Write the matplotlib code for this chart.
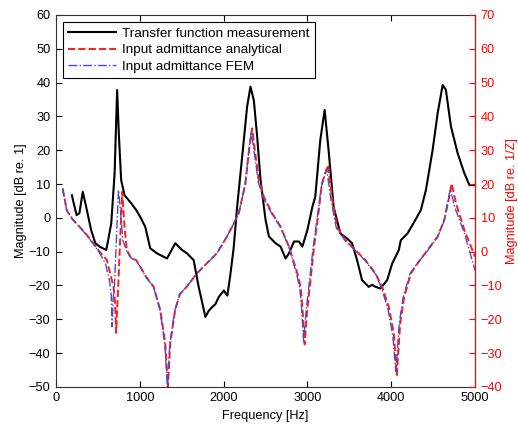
import matplotlib
matplotlib.use("Agg")
import matplotlib.pyplot as plt

plt.rcParams["font.family"] = ["Liberation Sans", "DejaVu Sans"]
plt.rcParams["font.size"] = 9.2

# transfer function measurement (left axis, dB re. 1)
meas_f = [190, 215, 247, 280, 320, 360, 420, 470, 520, 560, 600, 620, 660, 700, 730, 750,
          778, 818, 898, 958, 1005, 1065, 1125, 1205, 1325, 1424, 1504, 1564, 1643, 1703,
          1783, 1823, 1863, 1903, 1943, 2003, 2045, 2080, 2120, 2162, 2222, 2281, 2321, 2361,
          2401, 2441, 2501, 2541, 2620, 2680, 2740, 2780, 2840, 2900, 2940, 3000, 3060,
          3094, 3154, 3206, 3253, 3313, 3393, 3473, 3533, 3593, 3652, 3732, 3772, 3812,
          3872, 3952, 4012, 4091, 4115, 4195, 4275, 4354, 4414, 4494, 4554, 4614, 4653,
          4713, 4793, 4873, 4933, 4993]
meas_db = [6.7, 4.0, 0.8, 1.4, 7.7, 3.3, -3.6, -7.5, -8.5, -9.0, -9.5, -7.0, -1.6, 13.2, 37.8, 25.0,
           11.2, 6.7, 4.3, 2.3, 0.3, -2.6, -9.0, -10.5, -12.0, -7.5, -9.5, -10.5, -12.5, -20.4,
           -29.3, -27.5, -26.4, -25.5, -23.4, -21.5, -23.0, -17.0, -9.0, 3.3, 18.1, 32.9, 38.8, 34.8,
           24.0, 11.2, -0.6, -5.5, -7.5, -8.5, -12.0, -10.5, -7.0, -7.0, -8.5, -3.6, 3.3,
           6.2, 23.0, 31.9, 20.0, 3.3, -4.6, -6.1, -7.5, -12.5, -18.4, -20.4, -19.8, -20.4,
           -20.9, -18.4, -13.5, -9.5, -6.6, -4.6, -1.2, 2.3, 8.2, 20.0, 30.9, 39.3, 37.8,
           27.0, 19.1, 13.2, 9.7, 9.7]

# input admittance, analytical (right axis, dB re. 1/Z)
ana_f = [80, 128, 200, 280, 350, 446, 519, 606, 658, 686, 705, 718, 738, 766, 790, 818, 845,
         900, 958, 1005, 1077, 1164, 1244, 1304, 1336, 1364, 1423, 1480, 1563, 1680, 1802,
         1920, 2041, 2102, 2182, 2261, 2309, 2341, 2373, 2421, 2481, 2581, 2680, 2780, 2880,
         2920, 2940, 2968, 2995, 3020, 3080, 3130, 3174, 3245, 3293, 3353, 3453, 3573, 3692,
         3812, 3892, 3972, 4030, 4067, 4107, 4155, 4235, 4314, 4434, 4554, 4634, 4693, 4721,
         4773, 4873, 5000]
ana_db = [18.7, 12.3, 9.5, 7.4, 5.5, 2.5, 0.0, -2.4, -7.5, -10.3, -15.0, -24.0, -13.0, 3.4, 17.7, 7.4, 0.5,
          -2.0, -2.5, -4.4, -7.5, -10.3, -17.2, -27.0, -40.0, -27.0, -17.2, -12.5, -10.3, -6.5, -3.4,
          -0.5, 4.5, 7.4, 11.4, 20.2, 31.0, 36.5, 30.0, 21.2, 16.2, 11.3, 7.4, 1.5, -6.4,
          -10.5, -16.2, -27.4, -18.0, -12.4, 1.5, 11.0, 20.2, 25.6, 16.2, 7.4, 3.4, 0.5, -2.5,
          -6.4, -10.4, -16.4, -24.0, -36.5, -21.3, -13.4, -6.4, -3.5, 0.5, 4.5, 9.4, 16.2, 20.2,
          14.3, 6.4, -1.5]

# input admittance, FEM (right axis, dB re. 1/Z)
fem_f = [80, 128, 200, 280, 350, 446, 519, 590, 638, 660, 670, 682, 698, 730, 746, 766, 798,
         845, 900, 958, 1005, 1077, 1164, 1240, 1300, 1330, 1358, 1418, 1475, 1560, 1680, 1802,
         1920, 2041, 2102, 2182, 2255, 2300, 2330, 2365, 2415, 2475, 2581, 2680, 2780, 2870,
         2910, 2930, 2955, 2985, 3010, 3070, 3120, 3165, 3230, 3280, 3345, 3453, 3573, 3692,
         3812, 3885, 3962, 4020, 4055, 4097, 4145, 4225, 4310, 4434, 4554, 4630, 4680, 4705,
         4760, 4873, 5000]
fem_db = [18.7, 12.3, 9.5, 7.4, 5.3, 2.3, -0.3, -3.5, -8.4, -13.0, -22.2, -14.0, -10.4, 8.8, 18.2, 13.3, 3.4,
          0.0, -2.0, -2.6, -4.5, -7.6, -10.4, -17.0, -27.5, -40.0, -27.5, -17.4, -12.6, -10.4, -6.5, -3.4,
          -0.5, 4.5, 7.4, 11.4, 19.5, 29.5, 35.5, 29.5, 20.5, 15.8, 11.0, 7.2, 1.3, -6.5,
          -10.8, -16.5, -26.5, -17.5, -12.0, 1.5, 10.5, 19.0, 24.5, 15.5, 7.0, 3.2, 0.3, -2.7,
          -6.6, -10.8, -17.0, -25.0, -35.5, -21.0, -13.2, -6.5, -3.5, 0.3, 4.3, 9.0, 15.5, 18.5,
          13.0, 5.5, -5.5]

fig = plt.figure(figsize=(5.18, 4.28), dpi=100)
ax = fig.add_axes([0.108, 0.096, 0.809, 0.869])
ax2 = ax.twinx()

ln1, = ax.plot(meas_f, meas_db, color="black", lw=1.5, label="Transfer function measurement")
ln2, = ax2.plot(ana_f, ana_db, color="#ff1a1a", ls="--", lw=1.4, label="Input admittance analytical")
ln3, = ax2.plot(fem_f, fem_db, color="#4a4acc", ls="-.", lw=1.0, label="Input admittance FEM")

ax.set_xlim(0, 5000)
ax.set_ylim(-50, 60)
ax.set_yticks(range(-50, 61, 10))
ax.set_xticks(range(0, 5001, 1000))
ax2.set_ylim(-40, 70)
ax2.set_yticks(range(-40, 71, 10))

ax.set_xlabel("Frequency [Hz]", labelpad=4)
ax.set_ylabel("Magnitude [dB re. 1]", labelpad=1)
ax2.set_ylabel("Magnitude [dB re. 1/Z]", color="red", labelpad=3)

ax.tick_params(direction="in", top=True, length=4, width=0.8, colors="black", pad=4)
ax.tick_params(axis="y", right=False)
ax2.tick_params(direction="in", length=4, width=0.8, colors="red", pad=4)
for s in ax.spines.values():
    s.set_linewidth(0.8)
    s.set_color("#333333")
ax2.spines["right"].set_color("red")
ax2.spines["left"].set_visible(False)
ax2.spines["top"].set_visible(False)
ax2.spines["bottom"].set_visible(False)

leg = ax2.legend(handles=[ln1, ln2, ln3], loc="upper left", bbox_to_anchor=(0.017, 0.981),
                 fancybox=False, edgecolor="black", framealpha=1, fontsize=9.7,
                 handlelength=3.5, borderpad=0.4, labelspacing=0.3, handletextpad=0.5,
                 borderaxespad=0)
leg.get_frame().set_linewidth(0.8)

plt.savefig("out.png", dpi=100)
